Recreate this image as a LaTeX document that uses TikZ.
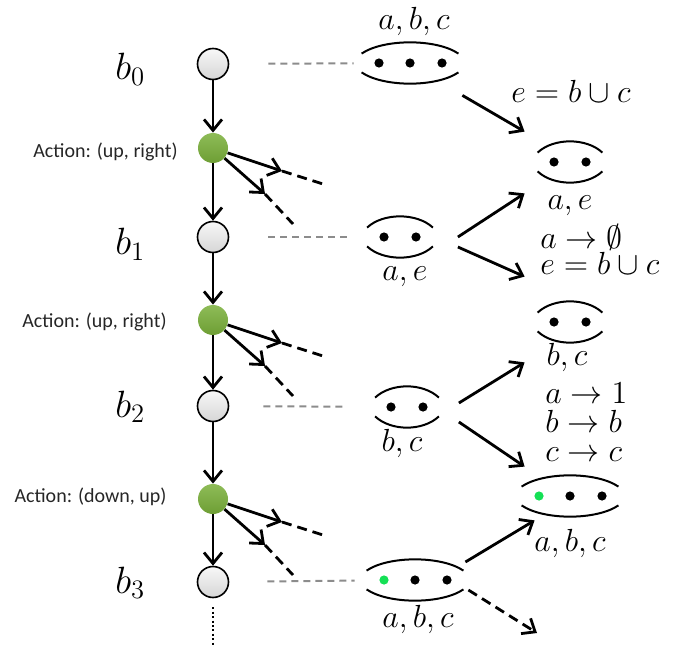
\RequirePackage{fix-cm}
\documentclass[tikz,border=0pt]{standalone}
\usepackage{fontspec}
\newfontfamily\actfont{Carlito}
\usetikzlibrary{arrows.meta,calc}
\definecolor{actgreen}{RGB}{122,176,58}
\definecolor{dotgreen}{RGB}{20,224,85}
\definecolor{beliefgray}{RGB}{220,220,220}
\definecolor{linkgray}{RGB}{140,140,140}
\tikzset{
  belief/.style={circle,draw,line width=0.8pt,top color=gray!6,bottom color=gray!32,minimum size=15.5pt,inner sep=0pt},
  act/.style={circle,top color=actgreen!85!white,bottom color=actgreen!90!black,minimum size=15pt,inner sep=0pt},
  arr/.style={-{Straight Barb[length=5.5pt,width=9pt]},line width=1.4pt},
  cont/.style={dash pattern=on 5pt off 3pt,line width=1.4pt},
  link/.style={linkgray,dash pattern=on 3.5pt off 2.5pt,line width=1pt},
  bag/.style={minimum height=9pt,inner sep=0pt},
  bagline/.style={line width=1pt},
  mlab/.style={font=\fontsize{16}{16}\selectfont,inner sep=0pt,anchor=base},
  blab/.style={font=\fontsize{19}{19}\selectfont,inner sep=0pt,anchor=base west},
  actlab/.style={font=\actfont\fontsize{10}{12}\selectfont,text=black!85,anchor=east,inner sep=0pt},
}
\newcommand{\bagarcs}[2]{%
  \draw[bagline] (#1.north west) .. controls +(#2,-15) and +(-#2,-15) .. (#1.north east);
  \draw[bagline] (#1.south west) .. controls +(#2,15) and +(-#2,15) .. (#1.south east);}
\begin{document}
\begin{tikzpicture}[x=0.5pt,y=-0.5pt]
\useasboundingbox (0,0) rectangle (675,647);
% belief chain
\node[belief] (b0) at (213,64) {};
\node[act] (a1) at (213,148) {};
\node[belief] (b1) at (213,237) {};
\node[act] (a2) at (213,320) {};
\node[belief] (b2) at (213,406) {};
\node[act] (a3) at (213,499) {};
\node[belief] (b3) at (213,582) {};
\coordinate (more) at (213,647);
\draw[arr] (b0) -- (a1);
\draw[arr] (a1) -- (b1);
\draw[arr] (b1) -- (a2);
\draw[arr] (a2) -- (b2);
\draw[arr] (b2) -- (a3);
\draw[arr] (a3) -- (b3);
\draw[dash pattern=on 1pt off 1.2pt,line width=1.1pt,shorten <=4.5pt] (b3) -- (more);

\node[blab] (lb0) at (115,80) {$b_0$};
\node[blab] (lb1) at (115,255) {$b_1$};
\node[blab] (lb2) at (115,417) {$b_2$};
\node[blab] (lb3) at (115,593) {$b_3$};
\node[actlab] (la1) at (178,152) {Action: (up, right)};
\node[actlab] (la2) at (167,322) {Action: (up, right)};
\node[actlab] (la3) at (167,497) {Action: (down, up)};

% branches not taken
\foreach \a in {a1,a2,a3}{
  \draw[arr] (\a) -- ++(69,23) coordinate (\a r);
  \draw[cont] (\a r) -- ++(41,13);
  \draw[arr] (\a) -- ++(52,46) coordinate (\a d);
  \draw[cont] (\a d) -- ++(28,30);
}

% bags
\node[bag,minimum width=48pt] (bag0) at (410,63) {};
\node[bag,minimum width=32.5pt] (m1) at (400,237) {};
\node[bag,minimum width=31.5pt] (m2) at (407,407) {};
\node[bag,minimum width=48pt] (m3) at (415,580) {};
\node[bag,minimum width=32pt] (r1) at (570,162) {};
\node[bag,minimum width=32pt] (r2) at (570,322) {};
\node[bag,minimum width=48pt] (r3) at (570,496) {};
\foreach \b in {m1,m2,r1,r2}{
  \bagarcs{\b}{16}
  \fill ($(\b)+(-16,0)$) circle (2.3pt);
  \fill ($(\b)+(16,0)$) circle (2.3pt);
}
\foreach \b/\c in {bag0/black,m3/dotgreen,r3/dotgreen}{
  \bagarcs{\b}{22}
  \fill[\c] ($(\b)+(-31,0)$) circle (2.3pt);
  \fill ($(\b)+(0,0)$) circle (2.3pt);
  \fill ($(\b)+(32,0)$) circle (2.3pt);
}
\node[mlab] (lbag0) at (414,30) {$a,b,c$};
\node[mlab] (lm1) at (405,280) {$a,e$};
\node[mlab] (lm2) at (402,451) {$b,c$};
\node[mlab] (lm3) at (418,627) {$a,b,c$};
\node[mlab] (lr1) at (570,209) {$a,e$};
\node[mlab] (lr2) at (567,365) {$b,c$};
\node[mlab] (lr3) at (570,551) {$a,b,c$};

% updates
\node[mlab] (upd0) at (571,103) {$e=b\cup c$};
\node[mlab,align=left,anchor=north west,font=\fontsize{16}{13}\selectfont] (upd1) at (540,224)
  {$a\rightarrow\emptyset$\\$e=b\cup c$};
\node[mlab,align=left,anchor=north west,font=\fontsize{16}{14.7}\selectfont] (upd2) at (545,382)
  {$a\rightarrow 1$\\$b\rightarrow b$\\$c\rightarrow c$};
\coordinate (m3out) at (537,633);
\draw[arr] ($(bag0.south east)+(4,23)$) -- ($(r1.north west)+(-13,-21)$);
\draw[arr] ($(m1.east)+(25,0)$) -- ($(r1.south west)+(-13,22)$);
\draw[arr] ($(m1.east)+(25,10)$) -- ($(r2.north west)+(-13,-36)$);
\draw[arr] ($(m2.east)+(20,-4)$) -- ($(r2.south west)+(-13,31)$);
\draw[arr] ($(m2.east)+(20,15)$) -- ($(r3.north west)+(3,-20)$);
\draw[arr] ($(m3.east)+(2,-18)$) -- ($(r3.south west)+(13,15)$);
\draw[arr,cont] ($(m3.east)+(5,10)$) -- (m3out);

% belief to bag
\draw[link,shorten <=19.5pt,shorten >=4pt] (b0) -- (bag0);
\draw[link,shorten <=19.5pt,shorten >=7.5pt] (b1) -- (m1);
\draw[link,shorten <=17pt,shorten >=15pt] (b2) -- (m2);
\draw[link,shorten <=19pt,shorten >=6pt] (b3) -- (m3);
\end{tikzpicture}
\end{document}
